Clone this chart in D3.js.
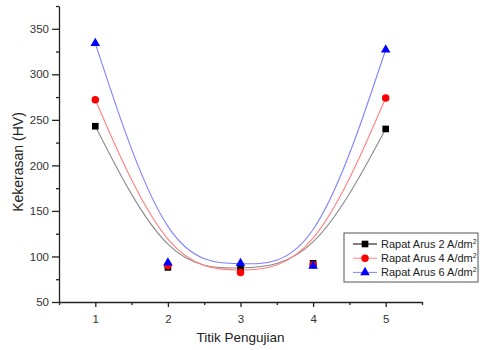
<!DOCTYPE html>
<html>
<head>
<meta charset="utf-8">
<script src="https://cdn.jsdelivr.net/npm/d3@7"></script>
<style>
  body { margin: 0; background: #fff; }
  svg { display: block; font-family: "Liberation Sans", Arial, sans-serif; }
</style>
</head>
<body>
<div class="container"></div>
<script>
// titik pengujian (x) and hardness values per current density
const points = [1, 2, 3, 4, 5];
const arus2 = [243, 88, 86, 92.5, 240];
const arus4 = [272, 90, 82.5, 91, 274];
const arus6 = [334, 93, 92.5, 89.5, 327];
const seriesNames = ['Rapat Arus 2 A/dm', 'Rapat Arus 4 A/dm', 'Rapat Arus 6 A/dm'];
const yTicks = [50, 100, 150, 200, 250, 300, 350];

const width = 480, height = 350;
const margin = {left: 59, right: 58, top: 6, bottom: 48};

const series = [
    {name: seriesNames[0], values: arus2, color: '#000', curve: '#8a8a8a', shape: d3.symbolSquare, size: 44},
    {name: seriesNames[1], values: arus4, color: '#f00', curve: '#ff8080', shape: d3.symbolCircle, size: 44},
    {name: seriesNames[2], values: arus6, color: '#00f', curve: '#8080ff', shape: d3.symbolTriangle, size: 40}
];

const svg = d3.select('.container')
    .append('svg')
    .attr('width', width)
    .attr('height', height);

const x = d3.scaleLinear().domain([0.5, 5.5]).range([margin.left, width - margin.right]);
const y = d3.scaleLinear().domain([50, 375]).range([height - margin.bottom, margin.top]);

// axes
const xAxis = svg.append('g')
    .attr('transform', `translate(0,${height - margin.bottom})`)
    .call(d3.axisBottom(x).tickValues(points).tickFormat(d3.format('d')).tickSize(5).tickSizeOuter(0));
svg.append('g')
    .attr('transform', `translate(0,${height - margin.bottom})`)
    .call(d3.axisBottom(x).tickValues([0.5, 1.5, 2.5, 3.5, 4.5, 5.5]).tickFormat('').tickSize(3).tickSizeOuter(0))
    .call(g => g.select('.domain').remove());

const yAxis = svg.append('g')
    .attr('transform', `translate(${margin.left},0)`)
    .call(d3.axisLeft(y).tickValues(yTicks).tickSize(7).tickSizeOuter(0).tickPadding(3));
svg.append('g')
    .attr('transform', `translate(${margin.left},0)`)
    .call(d3.axisLeft(y).tickValues([75, 125, 175, 225, 275, 325, 375]).tickFormat('').tickSize(3).tickSizeOuter(0))
    .call(g => g.select('.domain').remove());

svg.selectAll('.domain, .tick line').attr('stroke', '#222').attr('stroke-width', 1.3);
svg.selectAll('.tick text').attr('fill', '#333').attr('font-size', 11.5).attr('font-family', '"Liberation Sans", Arial, sans-serif');
xAxis.selectAll('.tick text').attr('dy', '1.1em');

svg.append('text')
    .attr('x', x(3))
    .attr('y', 342)
    .attr('text-anchor', 'middle')
    .attr('font-size', 13.5)
    .attr('fill', '#222')
    .text('Titik Pengujian');

svg.append('text')
    .attr('transform', 'translate(23,162) rotate(-90)')
    .attr('text-anchor', 'middle')
    .attr('font-size', 14)
    .attr('fill', '#222')
    .text('Kekerasan (HV)');

// B-spline style curves (Origin's spline connect ~ d3.curveBasis)
const line = d3.line()
    .x((d, i) => x(points[i]))
    .y(d => y(d))
    .curve(d3.curveBasis);

series.forEach(s => {
    svg.append('path')
        .attr('d', line(s.values))
        .attr('fill', 'none')
        .attr('stroke', s.curve)
        .attr('stroke-width', 1.1);
});

series.forEach(s => {
    svg.append('g')
        .selectAll('path')
        .data(s.values)
        .join('path')
        .attr('transform', (d, i) => `translate(${x(points[i])},${y(d)})`)
        .attr('d', d3.symbol(s.shape, s.size))
        .attr('fill', s.color);
});

// legend
const legend = svg.append('g').attr('transform', 'translate(344,233)');
legend.append('rect')
    .attr('width', 134)
    .attr('height', 49)
    .attr('fill', '#fff')
    .attr('stroke', '#555')
    .attr('stroke-width', 1);

series.forEach((s, i) => {
    const row = legend.append('g').attr('transform', `translate(0,${11 + i * 14.2})`);
    row.append('line')
        .attr('x1', 9).attr('x2', 33)
        .attr('stroke', s.color === '#000' ? '#000' : s.curve)
        .attr('stroke-width', 1);
    row.append('path')
        .attr('transform', 'translate(21,0)')
        .attr('d', d3.symbol(s.shape, s.size)())
        .attr('fill', s.color);
    const t = row.append('text')
        .attr('x', 37)
        .attr('y', 4)
        .attr('font-size', 11)
        .attr('fill', '#222')
        .text(s.name);
    t.append('tspan')
        .attr('dy', -4)
        .attr('font-size', 7)
        .text('2');
});
</script>
</body>
</html>
